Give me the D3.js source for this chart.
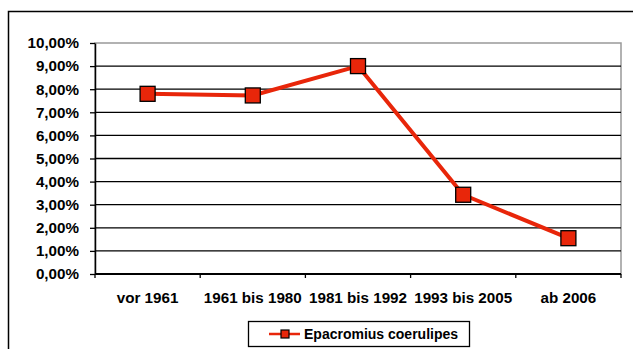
<!DOCTYPE html>
<html>
<head>
<meta charset="utf-8">
<script src="https://cdn.jsdelivr.net/npm/d3@7"></script>
<style>
  html, body { margin: 0; padding: 0; background: #fff; }
  svg { display: block; font-family: "Liberation Sans", Arial, sans-serif; font-weight: bold; }
</style>
</head>
<body>
<svg id="chart" width="633" height="349"></svg>
<script>
// Periods on the category axis
const categories = ["vor 1961", "1961 bis 1980", "1981 bis 1992", "1993 bis 2005", "ab 2006"];
// Share of records per period (%)
const values = [7.80, 7.73, 9.00, 3.43, 1.55];
// Y axis ticks (%)
const yTicks = [0, 1, 2, 3, 4, 5, 6, 7, 8, 9, 10];
const seriesName = "Epacromius coerulipes";

const svg = d3.select("#chart");
const plot = { left: 95, right: 621, top: 43, bottom: 274 };
const red = "#e8260a";

// Outer chart frame (runs off the right and bottom edges)
svg.append("rect")
  .attr("x", 8.5).attr("y", 11.5)
  .attr("width", 640).attr("height", 350)
  .attr("fill", "none").attr("stroke", "#000").attr("stroke-width", 1.5);

const x = d3.scaleBand().domain(categories).range([plot.left, plot.right]);
const y = d3.scaleLinear().domain([0, 10]).range([plot.bottom, plot.top]);

// Plot area border (grey)
svg.append("rect")
  .attr("x", plot.left).attr("y", plot.top)
  .attr("width", plot.right - plot.left).attr("height", plot.bottom - plot.top)
  .attr("fill", "none").attr("stroke", "#999").attr("stroke-width", 1.5);

// Horizontal gridlines
svg.append("g").selectAll("line")
  .data(yTicks.filter(d => d > 0 && d < 10))
  .join("line")
  .attr("x1", plot.left).attr("x2", plot.right)
  .attr("y1", d => y(d)).attr("y2", d => y(d))
  .attr("stroke", "#000").attr("stroke-width", 1.3);

// Y axis
const fmt = d => d3.format(".2f")(d).replace(".", ",") + "%";
const yAxis = svg.append("g")
  .attr("transform", `translate(${plot.left},0)`)
  .call(d3.axisLeft(y).tickValues(yTicks).tickFormat(fmt).tickSize(5).tickSizeOuter(0).tickPadding(11));
yAxis.select(".domain").attr("stroke", "#000").attr("stroke-width", 1.5);
yAxis.selectAll(".tick line").attr("stroke", "#000").attr("stroke-width", 1.3);
yAxis.selectAll(".tick text")
  .attr("font-family", "Liberation Sans, Arial, sans-serif")
  .attr("font-weight", "bold").attr("font-size", 15.2).attr("fill", "#000");

// X axis with ticks at band boundaries
const xAxisG = svg.append("g").attr("transform", `translate(0,${plot.bottom})`);
xAxisG.append("line")
  .attr("x1", plot.left).attr("x2", plot.right)
  .attr("stroke", "#000").attr("stroke-width", 2);
const boundaries = categories.map(c => x(c)).concat([x(categories[categories.length - 1]) + x.bandwidth()]);
xAxisG.selectAll("line.tk").data(boundaries).join("line")
  .attr("class", "tk")
  .attr("x1", d => d).attr("x2", d => d)
  .attr("y1", 0).attr("y2", 4)
  .attr("stroke", "#000").attr("stroke-width", 1.3);
xAxisG.selectAll("text").data(categories).join("text")
  .attr("x", d => x(d) + x.bandwidth() / 2)
  .attr("y", 29)
  .attr("text-anchor", "middle")
  .attr("font-size", 15.2).attr("fill", "#000")
  .text(d => d);

// Series line
const pts = categories.map((c, i) => [x(c) + x.bandwidth() / 2, y(values[i])]);
svg.append("path")
  .attr("d", d3.line()(pts))
  .attr("fill", "none").attr("stroke", red).attr("stroke-width", 4)
  .attr("stroke-linejoin", "round");

// Square markers
const m = 15;
svg.append("g").selectAll("rect")
  .data(categories.map((c, i) => ({ c, v: values[i] })))
  .join("rect")
  .attr("x", d => x(d.c) + x.bandwidth() / 2 - m / 2)
  .attr("y", d => y(d.v) - m / 2)
  .attr("width", m).attr("height", m)
  .attr("fill", red).attr("stroke", "#000").attr("stroke-width", 1.3);

// Legend
const lg = svg.append("g");
lg.append("rect")
  .attr("x", 248.5).attr("y", 321.5).attr("width", 221).attr("height", 25)
  .attr("fill", "#fff").attr("stroke", "#000").attr("stroke-width", 1.3);
lg.append("line")
  .attr("x1", 269).attr("x2", 300).attr("y1", 334).attr("y2", 334)
  .attr("stroke", red).attr("stroke-width", 2.5);
lg.append("rect")
  .attr("x", 281).attr("y", 330).attr("width", 8).attr("height", 8)
  .attr("fill", red).attr("stroke", "#000").attr("stroke-width", 1.2);
lg.append("text")
  .attr("x", 304).attr("y", 339)
  .attr("font-size", 14).attr("fill", "#000")
  .text(seriesName);
</script>
</body>
</html>
